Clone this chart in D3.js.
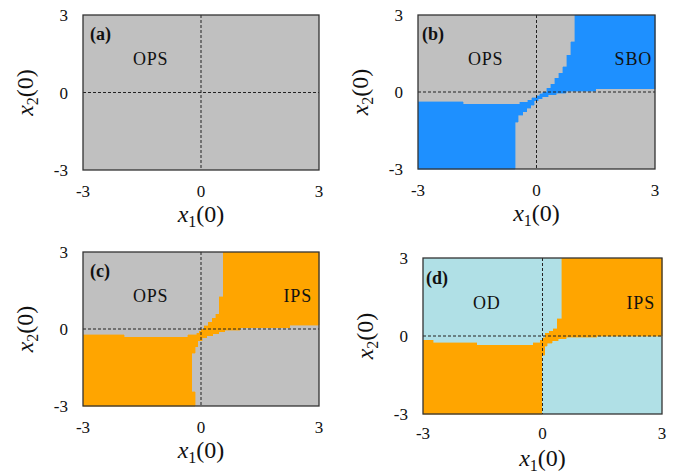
<!DOCTYPE html>
<html>
<head>
<meta charset="utf-8">
<script src="https://cdn.jsdelivr.net/npm/d3@7"></script>
<style>
  html, body { margin: 0; padding: 0; background: #fff; }
  svg { display: block; }
  text { font-family: "Liberation Serif", "DejaVu Serif", serif; fill: #111; }
</style>
</head>
<body>
<svg id="chart" width="678" height="474"></svg>
<script>
// ---------------- data ----------------
const axisTicks = [-3, 0, 3];
const axisTickLabels = ["-3", "0", "3"];
const panelTags = ["(a)", "(b)", "(c)", "(d)"];
const baseStates = ["OPS", "OPS", "OPS", "OD"];
const regionStates = [null, "SBO", "IPS", "IPS"];

// basin boundaries (x1(0), x2(0))
const regionA = [];
const regionB = [
  [0.97, 3], [3, 3], [3, 0.13], [1.5, 0.13], [1.5, 0.03], [0.75, 0.03], [0.75, -0.04],
  [0.5, -0.04], [0.5, -0.1], [0.3, -0.1], [0.3, -0.18], [0.15, -0.18], [0.15, -0.26],
  [0.05, -0.26], [0.05, -0.34], [-0.06, -0.34], [-0.06, -0.51], [-0.15, -0.51],
  [-0.15, -0.64], [-0.25, -0.64], [-0.25, -0.77], [-0.35, -0.77], [-0.35, -0.9],
  [-0.46, -0.9], [-0.46, -1.18], [-0.54, -1.18], [-0.54, -3], [-3, -3], [-3, -0.38],
  [-1.85, -0.38], [-1.85, -0.47], [-0.43, -0.47], [-0.43, -0.4], [-0.22, -0.4],
  [-0.22, -0.32], [-0.12, -0.32], [-0.12, -0.22], [0, -0.22], [0, -0.14], [0.08, -0.14],
  [0.08, -0.06], [0.16, -0.06], [0.16, 0.0], [0.26, 0.0], [0.26, 0.14], [0.36, 0.14],
  [0.36, 0.31], [0.46, 0.31], [0.46, 0.53], [0.56, 0.53], [0.56, 0.73], [0.66, 0.73],
  [0.66, 0.99], [0.76, 0.99], [0.76, 1.44], [0.87, 1.44], [0.87, 1.96], [0.97, 1.96]
];
const regionC = [
  [0.57, 3], [3, 3], [3, 0.14], [2.26, 0.14], [2.26, 0.05], [1.0, 0.05], [1.0, -0.05],
  [0.6, -0.05], [0.6, -0.1], [0.45, -0.1], [0.45, -0.18], [0.3, -0.18], [0.3, -0.26],
  [0.15, -0.26], [0.15, -0.35], [0.03, -0.35], [0.03, -0.46], [-0.08, -0.46],
  [-0.08, -0.69], [-0.15, -0.69], [-0.15, -0.95], [-0.24, -0.95], [-0.24, -2.44],
  [-0.15, -2.44], [-0.15, -3], [-3, -3], [-3, -0.23], [-1.95, -0.23], [-1.95, -0.32],
  [-0.34, -0.32], [-0.34, -0.23], [-0.11, -0.23], [-0.11, -0.16], [-0.05, -0.16],
  [-0.05, -0.08], [0.0, -0.08], [0.0, 0.0], [0.08, 0.0], [0.08, 0.12], [0.19, 0.12],
  [0.19, 0.26], [0.29, 0.26], [0.29, 0.42], [0.37, 0.42], [0.37, 0.58], [0.47, 0.58],
  [0.47, 1.26], [0.57, 1.26]
];
const regionD = [
  [0.48, 3], [3, 3], [3, 0.0], [1.36, 0.0], [1.36, -0.04], [0.6, -0.04], [0.6, -0.1],
  [0.4, -0.1], [0.4, -0.18], [0.25, -0.18], [0.25, -0.28], [0.12, -0.28], [0.12, -0.4],
  [0.06, -0.4], [0.06, -0.74], [-0.02, -0.74], [-0.02, -3], [-3, -3], [-3, -0.17],
  [-2.74, -0.17], [-2.74, -0.26], [-1.65, -0.26], [-1.65, -0.36], [-0.23, -0.36],
  [-0.23, -0.26], [-0.06, -0.26], [-0.06, -0.16], [0.0, -0.16], [0.0, -0.06],
  [0.07, -0.06], [0.07, 0.1], [0.17, 0.1], [0.17, 0.18], [0.27, 0.18], [0.27, 0.28],
  [0.37, 0.28], [0.37, 0.67], [0.48, 0.67]
];
const regions = [regionA, regionB, regionC, regionD];

// ---------------- styling / layout ----------------
const stateColor = { OPS: "#c0c0c0", OD: "#b0e0e6", SBO: "#1e90ff", IPS: "#ffa500" };
const layout = [
  { left: 83,  top: 15,  w: 236, h: 155, tagDx: 7, tagDy: 25, baseDx: 50, baseDy: 50, regDx: 0,  xlabDy: 52, tickDy: 27 },
  { left: 418, top: 15,  w: 237, h: 154, tagDx: 4, tagDy: 25, baseDx: 50, baseDy: 50, regDx: 3,  xlabDy: 52, tickDy: 27 },
  { left: 83,  top: 252, w: 236, h: 154, tagDx: 7, tagDy: 25, baseDx: 50, baseDy: 50, regDx: 7,  xlabDy: 52, tickDy: 27 },
  { left: 423, top: 258, w: 239, h: 156, tagDx: 3, tagDy: 26, baseDx: 50, baseDy: 51, regDx: 7,  xlabDy: 52, tickDy: 25 }
];

const svg = d3.select("#chart");

layout.forEach((L, i) => {
  const x = d3.scaleLinear().domain([-3, 3]).range([L.left, L.left + L.w]);
  const y = d3.scaleLinear().domain([-3, 3]).range([L.top + L.h, L.top]);
  const g = svg.append("g");
  const line = d3.line().x(d => x(d[0])).y(d => y(d[1]));

  // base basin
  g.append("rect")
    .attr("x", x(-3)).attr("y", y(3))
    .attr("width", x(3) - x(-3)).attr("height", y(-3) - y(3))
    .attr("fill", stateColor[baseStates[i]]);

  // second basin
  if (regions[i].length) {
    g.append("path")
      .attr("d", line(regions[i]) + "Z")
      .attr("fill", stateColor[regionStates[i]])
      .attr("stroke", stateColor[regionStates[i]])
      .attr("stroke-width", 0.4)
      .attr("shape-rendering", "crispEdges");
  }

  // dashed zero lines
  g.append("line").attr("x1", x(0)).attr("x2", x(0)).attr("y1", y(3)).attr("y2", y(-3))
    .attr("stroke", "#222").attr("stroke-width", 1).attr("stroke-dasharray", "3,2");
  g.append("line").attr("x1", x(-3)).attr("x2", x(3)).attr("y1", y(0)).attr("y2", y(0))
    .attr("stroke", "#222").attr("stroke-width", 1).attr("stroke-dasharray", "3,2");

  // frame
  g.append("rect")
    .attr("x", x(-3)).attr("y", y(3))
    .attr("width", x(3) - x(-3)).attr("height", y(-3) - y(3))
    .attr("fill", "none").attr("stroke", "#333").attr("stroke-width", 1.3);

  // tick labels
  axisTicks.forEach((t, k) => {
    g.append("text").attr("x", x(t)).attr("y", y(-3) + L.tickDy)
      .attr("text-anchor", "middle").attr("font-size", 17).text(axisTickLabels[k]);
    g.append("text").attr("x", x(-3) - 15).attr("y", y(t) + 6)
      .attr("text-anchor", "end").attr("font-size", 17).text(axisTickLabels[k]);
  });

  // x label
  const xl = g.append("text").attr("x", x(0)).attr("y", y(-3) + L.xlabDy)
    .attr("text-anchor", "middle").attr("font-size", 24);
  xl.append("tspan").attr("font-style", "italic").text("x");
  xl.append("tspan").attr("font-size", 16).attr("dy", 5).text("1");
  xl.append("tspan").attr("dy", -5).text("(0)");

  // y label
  const yl = g.append("text")
    .attr("transform", `translate(${x(-3) - 50},${y(0)}) rotate(-90)`)
    .attr("text-anchor", "middle").attr("font-size", 24);
  yl.append("tspan").attr("font-style", "italic").text("x");
  yl.append("tspan").attr("font-size", 16).attr("dy", 5).text("2");
  yl.append("tspan").attr("dy", -5).text("(0)");

  // panel tag
  g.append("text").attr("x", x(-3) + L.tagDx).attr("y", y(3) + L.tagDy)
    .attr("font-size", 18).attr("font-weight", "bold").text(panelTags[i]);

  // state labels
  g.append("text").attr("x", x(-3) + L.baseDx).attr("y", y(3) + L.baseDy)
    .attr("font-size", 18).attr("letter-spacing", 0.8).text(baseStates[i]);
  if (regionStates[i]) {
    g.append("text").attr("x", x(3) - L.regDx).attr("y", y(3) + L.baseDy)
      .attr("text-anchor", "end").attr("font-size", 18).attr("letter-spacing", 0.8)
      .text(regionStates[i]);
  }
});
</script>
</body>
</html>
